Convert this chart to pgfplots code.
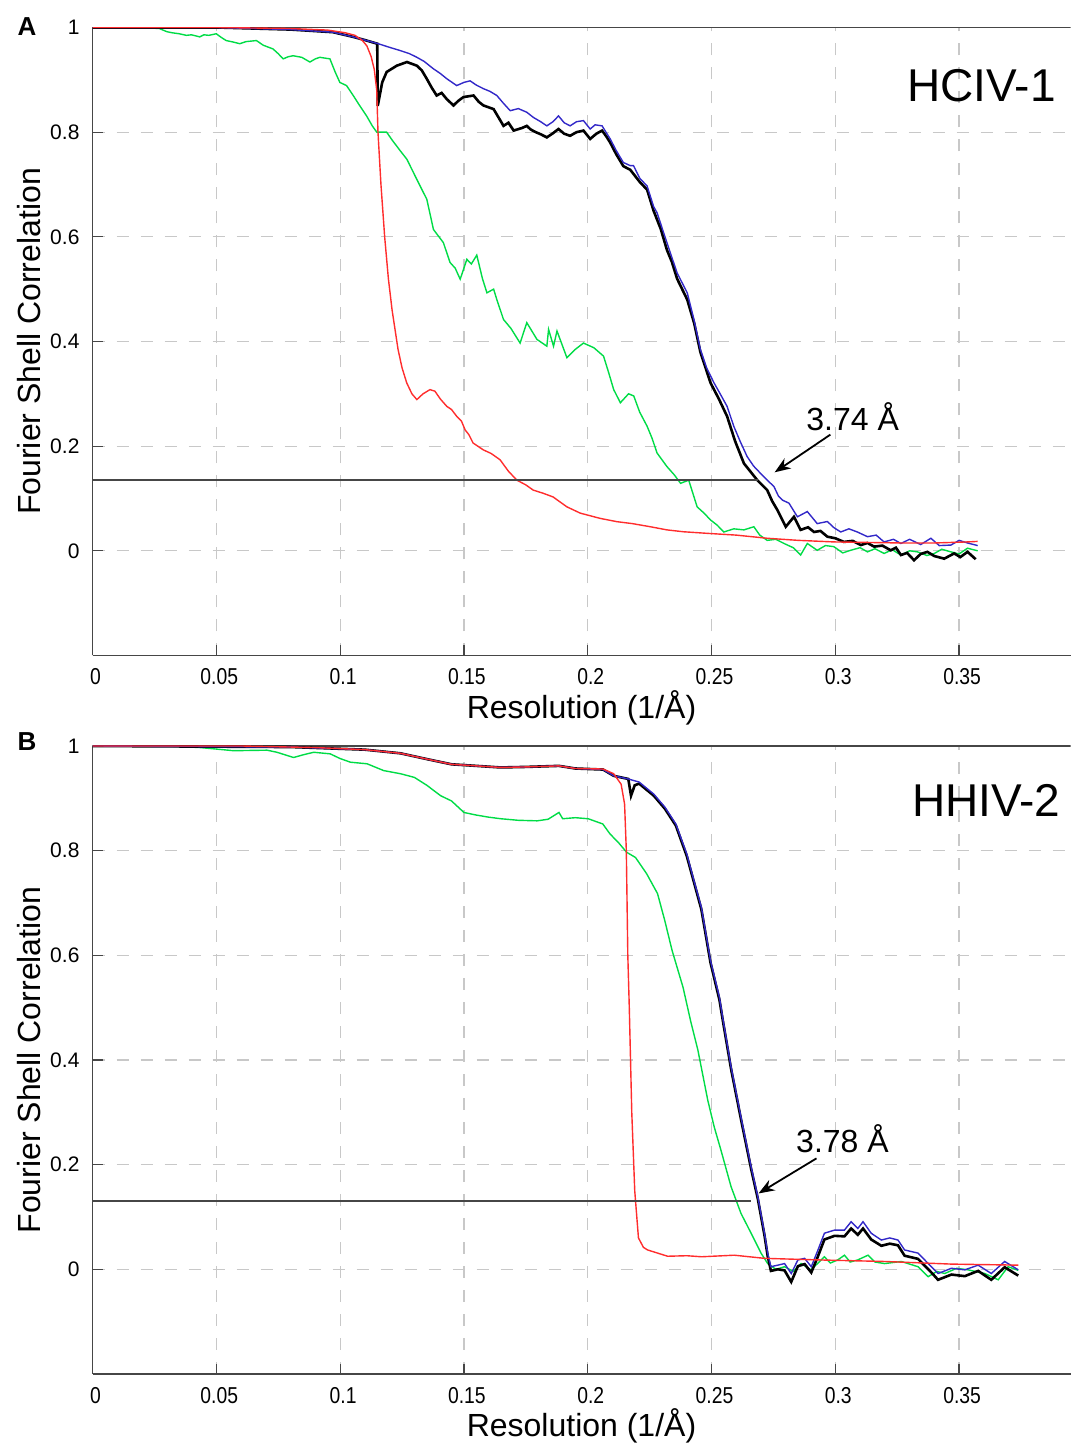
\documentclass[border=0pt]{standalone}
\usepackage{fontspec}
\setmainfont{Liberation Sans}
\newfontfamily\narrowfont[FakeStretch=0.84]{Liberation Sans}
\usepackage{pgfplots}
\pgfplotsset{compat=1.18}
\usetikzlibrary{arrows.meta}
\definecolor{fscred}{RGB}{255,45,45}
\definecolor{fscgreen}{RGB}{0,220,70}
\definecolor{fscblue}{RGB}{50,40,200}
\definecolor{gridgray}{RGB}{200,200,200}
\definecolor{axgray}{RGB}{70,70,70}
\pgfplotsset{fscaxis/.style={
  scale only axis, width=489pt, height=314pt,
  xmin=0, xmax=0.395, ymin=-0.2, ymax=1,
  axis x line*=bottom, axis y line*=left,
  axis line style={-, axgray, line width=0.8pt},
  xtick={0,0.05,0.1,0.15,0.2,0.25,0.3,0.35},
  xticklabels={0,0.05,0.1,0.15,0.2,0.25,0.3,0.35},
  ytick={0,0.2,0.4,0.6,0.8,1},
  yticklabels={0,0.2,0.4,0.6,0.8,1},
  tick align=inside, major tick length=5pt,
  tick style={axgray, line width=0.6pt},
  grid=major, major grid style={gridgray, dash pattern=on 6pt off 6pt, line width=0.6pt},
  xticklabel style={font=\narrowfont\fontsize{11.5}{13}\selectfont, yshift=-3pt, xshift=1.5pt},
  yticklabel style={font=\fontsize{10.5}{12}\selectfont, xshift=-3pt},
  xlabel={Resolution (1/Å)}, ylabel={Fourier Shell Correlation},
  every axis x label/.style={at={(axis description cs:0.5,-0.083)}, anchor=center, font=\fontsize{16}{19}\selectfont},
  every axis y label/.style={at={(axis description cs:-0.0644,0.5)}, rotate=90, anchor=center, font=\fontsize{16}{19}\selectfont},
  /pgf/number format/assume math mode=true,
}}
\begin{document}
\begin{tikzpicture}
% ---------------- Panel A ----------------
\begin{axis}[fscaxis, at={(46.25pt,393.75pt)}, anchor=south west]
\draw[axgray, line width=0.8pt] (rel axis cs:0,1) -- (rel axis cs:1,1);
\addplot[fscgreen, line width=0.7pt] coordinates {
(0,1) (0.02,1.0) (0.027,0.998) (0.030,0.992) (0.032,0.99) (0.035,0.988) (0.0379,0.985) (0.040,0.986) (0.0433,0.982) (0.045,0.986) (0.047,0.985) (0.050,0.988) (0.052,0.981) (0.054,0.975) (0.057,0.972) (0.0595,0.969) (0.062,0.973) (0.0662,0.975) (0.069,0.966) (0.0729,0.959) (0.075,0.950) (0.077,0.940) (0.079,0.944) (0.081,0.946) (0.0845,0.943) (0.0878,0.934) (0.090,0.940) (0.0918,0.943) (0.0959,0.940) (0.098,0.915) (0.0999,0.895) (0.1026,0.889) (0.1053,0.870) (0.108,0.850) (0.1107,0.831) (0.113,0.812) (0.1148,0.80) (0.1188,0.80) (0.121,0.785) (0.1242,0.765) (0.127,0.748) (0.1296,0.723) (0.132,0.700) (0.135,0.672) (0.1365,0.640) (0.1377,0.614) (0.1417,0.589) (0.1444,0.551) (0.1465,0.540) (0.1485,0.519) (0.1512,0.557) (0.153,0.548) (0.1552,0.565) (0.1575,0.520) (0.1593,0.493) (0.162,0.50) (0.1633,0.480) (0.166,0.442) (0.169,0.425) (0.1727,0.397) (0.1754,0.436) (0.1795,0.404) (0.1835,0.391) (0.1842,0.423) (0.1862,0.391) (0.1876,0.420) (0.1916,0.369) (0.195,0.385) (0.1983,0.397) (0.2025,0.388) (0.2064,0.372) (0.2085,0.340) (0.2105,0.308) (0.2132,0.283) (0.2165,0.300) (0.2186,0.296) (0.221,0.265) (0.224,0.238) (0.226,0.215) (0.228,0.187) (0.232,0.161) (0.235,0.145) (0.2375,0.129) (0.2408,0.135) (0.2442,0.084) (0.247,0.072) (0.2496,0.059) (0.2523,0.049) (0.255,0.036) (0.259,0.042) (0.2631,0.040) (0.2671,0.046) (0.2695,0.030) (0.2725,0.020) (0.276,0.022) (0.2793,0.014) (0.283,0.006) (0.286,-0.008) (0.2887,0.014) (0.2927,0.001) (0.296,0.010) (0.2994,0.008) (0.303,-0.004) (0.3062,0.001) (0.310,0.006) (0.313,-0.002) (0.316,0.004) (0.3197,-0.005) (0.323,0.002) (0.3265,-0.008) (0.330,0.000) (0.3332,-0.002) (0.337,-0.009) (0.340,-0.005) (0.343,0.003) (0.3467,-0.002) (0.350,-0.006) (0.3534,0.005) (0.3575,0.0)
};
\addplot[black, line width=1.3pt] coordinates {
(0,1) (0.05,1.0) (0.08,0.996) (0.0971,0.991) (0.1053,0.982) (0.11,0.976) (0.1150,0.969) (0.1152,0.85) (0.1158,0.865) (0.117,0.895) (0.1188,0.915) (0.1229,0.927) (0.127,0.934) (0.131,0.927) (0.133,0.918) (0.135,0.902) (0.137,0.885) (0.139,0.870) (0.141,0.875) (0.1431,0.863) (0.1458,0.851) (0.1478,0.860) (0.1498,0.867) (0.1539,0.870) (0.156,0.858) (0.1579,0.851) (0.162,0.844) (0.164,0.828) (0.166,0.812) (0.168,0.818) (0.1701,0.803) (0.1735,0.808) (0.1754,0.812) (0.177,0.805) (0.179,0.800) (0.181,0.796) (0.1835,0.790) (0.186,0.798) (0.1882,0.806) (0.1905,0.797) (0.1929,0.793) (0.1955,0.800) (0.1983,0.803) (0.201,0.787) (0.2035,0.797) (0.2058,0.803) (0.2075,0.792) (0.2091,0.780) (0.2115,0.758) (0.2144,0.735) (0.2172,0.728) (0.221,0.705) (0.224,0.690) (0.2266,0.650) (0.2295,0.615) (0.232,0.575) (0.234,0.552) (0.2361,0.52) (0.2402,0.48) (0.243,0.435) (0.2455,0.38) (0.2496,0.321) (0.253,0.290) (0.2563,0.257) (0.2595,0.21) (0.2631,0.167) (0.2685,0.135) (0.2725,0.116) (0.2745,0.095) (0.2766,0.078) (0.28,0.046) (0.2833,0.065) (0.286,0.040) (0.289,0.045) (0.2914,0.036) (0.294,0.038) (0.2968,0.027) (0.300,0.024) (0.3035,0.017) (0.307,0.019) (0.3103,0.011) (0.313,0.015) (0.3157,0.008) (0.319,0.010) (0.3224,0.001) (0.3245,0.006) (0.3265,-0.008) (0.329,-0.004) (0.3318,-0.018) (0.3345,-0.006) (0.3372,-0.002) (0.340,-0.010) (0.344,-0.015) (0.348,-0.005) (0.3505,-0.012) (0.3534,-0.002) (0.3567,-0.016)
};
\addplot[fscblue, line width=0.7pt] coordinates {
(0,1) (0.05,1.0) (0.08,0.996) (0.0971,0.991) (0.1053,0.982) (0.11,0.976) (0.1154,0.969) (0.12,0.962) (0.1242,0.956) (0.128,0.950) (0.131,0.943) (0.134,0.935) (0.1377,0.921) (0.1405,0.912) (0.1431,0.902) (0.1471,0.889) (0.150,0.895) (0.1525,0.898) (0.155,0.890) (0.1579,0.883) (0.1605,0.878) (0.1633,0.870) (0.166,0.855) (0.1687,0.841) (0.172,0.845) (0.1754,0.838) (0.1781,0.828) (0.181,0.820) (0.1835,0.812) (0.186,0.820) (0.1882,0.831) (0.1905,0.818) (0.1929,0.812) (0.1955,0.82) (0.1983,0.822) (0.201,0.806) (0.203,0.814) (0.2058,0.812) (0.2091,0.787) (0.2115,0.765) (0.2144,0.742) (0.2172,0.736) (0.2185,0.736) (0.221,0.712) (0.224,0.697) (0.2266,0.658) (0.228,0.646) (0.232,0.589) (0.2361,0.531) (0.2402,0.493) (0.243,0.440) (0.2455,0.385) (0.248,0.35) (0.251,0.321) (0.2535,0.30) (0.2563,0.276) (0.259,0.238) (0.2615,0.21) (0.2644,0.180) (0.267,0.162) (0.2698,0.148) (0.2725,0.135) (0.2752,0.123) (0.277,0.105) (0.2786,0.097) (0.2813,0.091) (0.2847,0.065) (0.2887,0.075) (0.2927,0.052) (0.2968,0.056) (0.2995,0.044) (0.3022,0.036) (0.3055,0.042) (0.3089,0.036) (0.313,0.027) (0.3165,0.030) (0.3197,0.017) (0.3235,0.022) (0.3265,0.014) (0.33,0.022) (0.3345,0.012) (0.3386,0.024) (0.342,0.010) (0.3467,0.011) (0.35,0.020) (0.3534,0.015) (0.3575,0.010)
};
\addplot[fscred, line width=0.7pt] coordinates {
(0,1.0) (0.05,1.0) (0.08,0.998) (0.095,0.995) (0.102,0.99) (0.106,0.985) (0.109,0.975) (0.1108,0.965) (0.1125,0.945) (0.1138,0.92) (0.1148,0.88) (0.1153,0.80) (0.1165,0.70) (0.118,0.60) (0.1195,0.52) (0.121,0.46) (0.1234,0.385) (0.125,0.35) (0.1269,0.321) (0.129,0.30) (0.131,0.289) (0.1335,0.30) (0.1363,0.308) (0.1383,0.305) (0.1405,0.29) (0.1431,0.276) (0.145,0.270) (0.1471,0.257) (0.149,0.248) (0.1505,0.231) (0.152,0.222) (0.1537,0.206) (0.1578,0.193) (0.161,0.186) (0.1646,0.174) (0.168,0.152) (0.1714,0.135) (0.175,0.126) (0.178,0.116) (0.182,0.110) (0.186,0.103) (0.1916,0.084) (0.197,0.072) (0.205,0.062) (0.2119,0.0556) (0.218,0.052) (0.2253,0.046) (0.232,0.040) (0.2387,0.0364) (0.2496,0.033) (0.26,0.030) (0.2725,0.024) (0.285,0.020) (0.2994,0.017) (0.313,0.016) (0.3265,0.015) (0.34,0.015) (0.3534,0.017) (0.3575,0.018)
};
\addplot[axgray, line width=1pt] coordinates {(0,0.135) (0.2686,0.135)};
\node[font=\fontsize{16}{19}\selectfont] at (axis cs:0.307,0.257) {3.74 Å};
\draw[-{Stealth[length=8pt,width=6pt]}, line width=0.9pt] (axis cs:0.298,0.222) -- (axis cs:0.2755,0.150);
\node[anchor=east, font=\fontsize{23}{27}\selectfont] at (rel axis cs:0.992,0.908) {HCIV-1};
\end{axis}
% ---------------- Panel B ----------------
\begin{axis}[fscaxis, at={(46.25pt,34.5pt)}, anchor=south west]
\draw[axgray, line width=0.8pt] (rel axis cs:0,1) -- (rel axis cs:1,1);
\addplot[fscgreen, line width=0.7pt] coordinates {
(0,1) (0.03,1.0) (0.0435,0.997) (0.057,0.991) (0.0705,0.992) (0.0745,0.988) (0.0812,0.978) (0.085,0.983) (0.0893,0.988) (0.096,0.985) (0.1,0.976) (0.1042,0.969) (0.1109,0.966) (0.1176,0.953) (0.1244,0.947) (0.13,0.94) (0.135,0.925) (0.1406,0.905) (0.145,0.895) (0.15,0.873) (0.155,0.868) (0.16,0.864) (0.1649,0.861) (0.172,0.858) (0.1796,0.857) (0.184,0.860) (0.1884,0.873) (0.1899,0.861) (0.195,0.863) (0.2002,0.861) (0.2061,0.851) (0.209,0.832) (0.2125,0.815) (0.2157,0.797) (0.2193,0.787) (0.2238,0.756) (0.2282,0.718) (0.2311,0.667) (0.2341,0.609) (0.2385,0.539) (0.2415,0.476) (0.2445,0.419) (0.2485,0.323) (0.2511,0.272) (0.2538,0.228) (0.2579,0.158) (0.2619,0.107) (0.266,0.069) (0.27,0.031) (0.2727,0.011) (0.276,0.000) (0.2795,0.005) (0.283,-0.004) (0.2862,0.011) (0.2902,-0.001) (0.2956,0.024) (0.298,0.012) (0.301,0.018) (0.3037,0.027) (0.306,0.014) (0.3091,0.018) (0.3132,0.027) (0.316,0.014) (0.3199,0.011) (0.3267,0.015) (0.3334,0.005) (0.3375,-0.014) (0.341,-0.004) (0.3442,-0.008) (0.349,0.002) (0.3536,-0.001) (0.3604,-0.008) (0.3658,-0.020) (0.3698,0.005) (0.3739,-0.002)
};
\addplot[black, line width=1.3pt] coordinates {
(0,1) (0.08,0.998) (0.11,0.993) (0.1244,0.986) (0.135,0.975) (0.145,0.965) (0.155,0.962) (0.1648,0.959) (0.175,0.96) (0.1884,0.962) (0.195,0.957) (0.2062,0.955) (0.2105,0.943) (0.2164,0.937) (0.2175,0.905) (0.219,0.925) (0.2208,0.928) (0.2267,0.905) (0.2312,0.880) (0.2356,0.848) (0.24,0.790) (0.2429,0.740) (0.2459,0.688) (0.2496,0.586) (0.2532,0.515) (0.2547,0.472) (0.2579,0.383) (0.2619,0.287) (0.266,0.192) (0.2687,0.135) (0.2714,0.065) (0.2727,0.025) (0.274,-0.003) (0.2768,0.0) (0.2795,-0.002) (0.2822,-0.024) (0.2849,0.006) (0.2876,0.010) (0.2903,-0.006) (0.293,0.025) (0.2956,0.057) (0.2997,0.064) (0.3037,0.063) (0.3064,0.078) (0.3091,0.066) (0.3112,0.078) (0.3145,0.057) (0.3186,0.045) (0.322,0.049) (0.3253,0.046) (0.328,0.026) (0.3334,0.020) (0.3388,-0.006) (0.3415,-0.020) (0.3469,-0.010) (0.3523,-0.013) (0.3577,-0.003) (0.363,-0.020) (0.3684,0.004) (0.3739,-0.012)
};
\addplot[fscblue, line width=0.7pt] coordinates {
(0,1) (0.08,0.998) (0.11,0.993) (0.1244,0.986) (0.135,0.975) (0.145,0.965) (0.155,0.962) (0.1648,0.959) (0.175,0.96) (0.1884,0.962) (0.195,0.957) (0.2062,0.955) (0.2105,0.943) (0.2164,0.937) (0.2208,0.931) (0.2267,0.908) (0.2312,0.883) (0.2356,0.851) (0.24,0.794) (0.2429,0.743) (0.2459,0.692) (0.2496,0.590) (0.2532,0.520) (0.2547,0.476) (0.2579,0.387) (0.2619,0.291) (0.266,0.196) (0.2687,0.139) (0.2714,0.069) (0.2727,0.031) (0.274,0.005) (0.2768,0.008) (0.2795,0.011) (0.2822,-0.008) (0.2849,0.018) (0.2876,0.021) (0.2903,0.005) (0.293,0.037) (0.2956,0.069) (0.2997,0.075) (0.3037,0.075) (0.3064,0.091) (0.3091,0.078) (0.3112,0.091) (0.3145,0.069) (0.3186,0.056) (0.322,0.060) (0.3253,0.056) (0.328,0.037) (0.3334,0.031) (0.3388,0.005) (0.3415,-0.008) (0.3469,0.002) (0.3523,-0.001) (0.3577,0.008) (0.363,-0.008) (0.3684,0.015) (0.3739,-0.001)
};
\addplot[fscred, line width=0.7pt] coordinates {
(0,1) (0.06,1.0) (0.09,0.997) (0.11,0.993) (0.1244,0.986) (0.135,0.975) (0.145,0.965) (0.155,0.962) (0.1648,0.959) (0.175,0.96) (0.1884,0.962) (0.195,0.957) (0.2062,0.956) (0.2105,0.947) (0.2135,0.927) (0.2149,0.889) (0.2156,0.80) (0.2162,0.60) (0.2168,0.50) (0.2178,0.30) (0.2190,0.15) (0.2205,0.06) (0.2225,0.042) (0.2242,0.037) (0.2323,0.025) (0.24,0.026) (0.246,0.024) (0.2592,0.027) (0.2714,0.021) (0.293,0.018) (0.32,0.015) (0.3469,0.010) (0.3739,0.008)
};
\addplot[axgray, line width=1pt] coordinates {(0,0.130) (0.2658,0.130)};
\node[font=\fontsize{16}{19}\selectfont] at (axis cs:0.3029,0.250) {3.78 Å};
\draw[-{Stealth[length=8pt,width=6pt]}, line width=0.9pt] (axis cs:0.2924,0.212) -- (axis cs:0.2690,0.145);
\node[anchor=east, font=\fontsize{23}{27}\selectfont] at (rel axis cs:0.997,0.914) {HHIV-2};
\end{axis}
\node[font=\bfseries\fontsize{13}{15}\selectfont] at (13.5pt,708pt) {A};
\node[font=\bfseries\fontsize{13}{15}\selectfont] at (13.5pt,350.5pt) {B};
\pgfresetboundingbox
\path[use as bounding box] (0,0) rectangle (535.5pt,721.5pt);
\end{tikzpicture}
\end{document}
